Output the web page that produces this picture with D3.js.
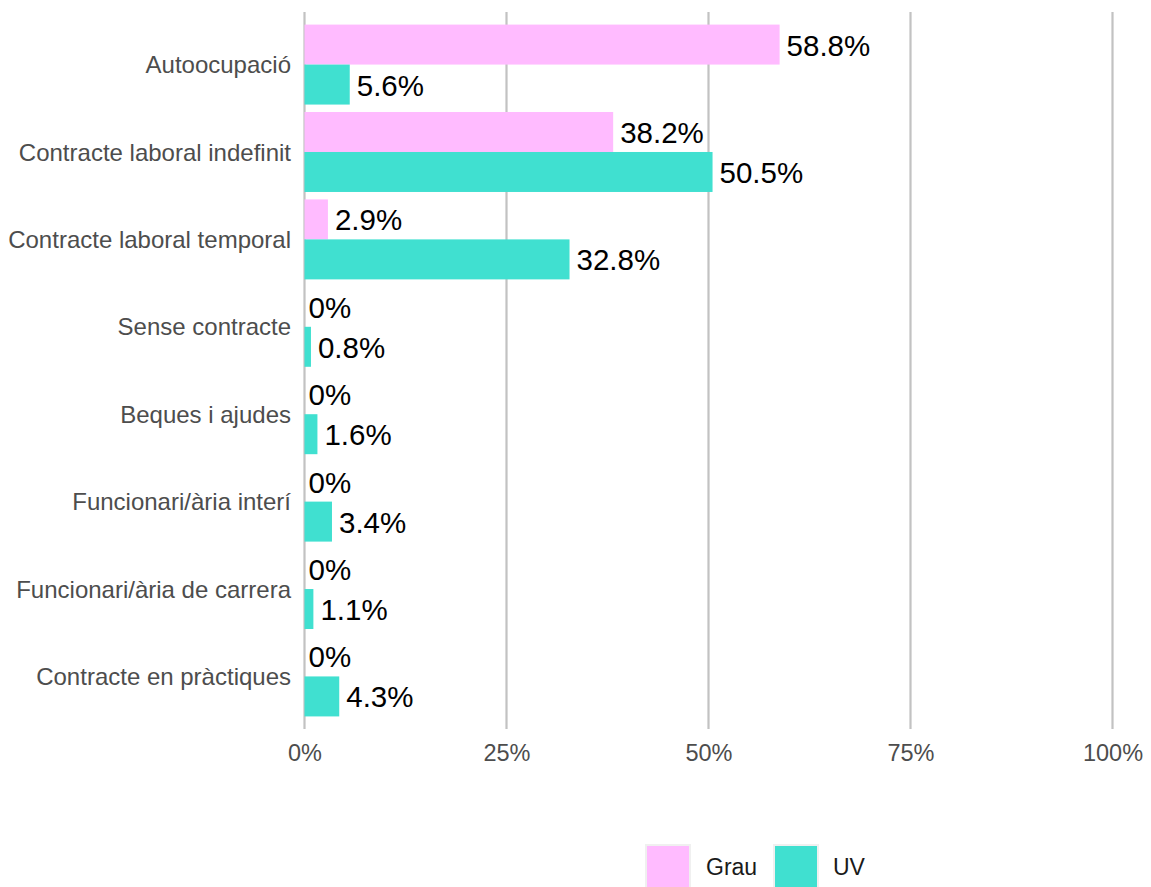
<!DOCTYPE html>
<html>
<head>
<meta charset="utf-8">
<script src="https://cdn.jsdelivr.net/npm/d3@7"></script>
<style>
  html, body { margin: 0; padding: 0; background: #ffffff; }
  svg { display: block; font-family: "Liberation Sans", Arial, sans-serif; }
</style>
</head>
<body>
<svg id="chart" width="1151" height="887"></svg>
<script>
// Employment situation: share of respondents per contract type
const categories = [
  "Autoocupació",
  "Contracte laboral indefinit",
  "Contracte laboral temporal",
  "Sense contracte",
  "Beques i ajudes",
  "Funcionari/ària interí",
  "Funcionari/ària de carrera",
  "Contracte en pràctiques"
];
const seriesNames = ["Grau", "UV"];
const grauValues = [58.8, 38.2, 2.9, 0, 0, 0, 0, 0];
const uvValues = [5.6, 50.5, 32.8, 0.8, 1.6, 3.4, 1.1, 4.3];
const xTicks = [0, 25, 50, 75, 100];
const seriesColors = ["#FFBBFF", "#40E0D0"];

const rows = categories.map((c, i) => ({
  category: c,
  values: [
    { series: seriesNames[0], value: grauValues[i] },
    { series: seriesNames[1], value: uvValues[i] }
  ]
}));

const svg = d3.select("#chart");
const plot = { left: 304.5, right: 1112.5, top: 12, bottom: 729 };

const x = d3.scaleLinear().domain([0, 100]).range([plot.left, plot.right]);
const y = d3.scaleBand()
  .domain(categories)
  .range([plot.top, plot.bottom])
  .paddingInner(0.085)
  .paddingOuter(0.144);
const ySub = d3.scaleBand().domain(seriesNames).range([0, y.bandwidth()]);
const color = d3.scaleOrdinal().domain(seriesNames).range(seriesColors);

// vertical gridlines
svg.append("g")
  .selectAll("line")
  .data(xTicks)
  .join("line")
  .attr("x1", d => x(d)).attr("x2", d => x(d))
  .attr("y1", plot.top).attr("y2", plot.bottom)
  .attr("stroke", "#c2c2c2")
  .attr("stroke-width", 2.2);

// x axis labels
const xAxis = d3.axisBottom(x).tickValues(xTicks).tickFormat(d => d + "%").tickSize(0).tickPadding(0);
const gx = svg.append("g").attr("transform", `translate(0,${plot.bottom})`).call(xAxis);
gx.select(".domain").remove();
gx.selectAll("text")
  .attr("dy", null)
  .attr("y", 32)
  .attr("font-size", 23.5)
  .attr("font-family", "Liberation Sans, Arial, sans-serif")
  .attr("fill", "#4d4d4d");

// y axis labels
const yAxis = d3.axisLeft(y).tickSize(0).tickPadding(0);
const gy = svg.append("g").attr("transform", `translate(291,0)`).call(yAxis);
gy.select(".domain").remove();
gy.selectAll("text")
  .attr("x", 0)
  .attr("dy", "0.36em")
  .attr("font-size", 24)
  .attr("font-family", "Liberation Sans, Arial, sans-serif")
  .attr("fill", "#4d4d4d");

// bars and value labels
const groups = svg.append("g")
  .selectAll("g")
  .data(rows)
  .join("g")
  .attr("transform", d => `translate(0,${y(d.category)})`);

groups.selectAll("rect")
  .data(d => d.values)
  .join("rect")
  .attr("x", x(0))
  .attr("y", d => ySub(d.series))
  .attr("width", d => x(d.value) - x(0))
  .attr("height", ySub.bandwidth())
  .attr("fill", d => color(d.series));

groups.selectAll("text")
  .data(d => d.values)
  .join("text")
  .attr("x", d => x(d.value) + (d.value === 0 ? 4 : 7))
  .attr("y", d => ySub(d.series) + ySub.bandwidth() / 2 + 11)
  .attr("font-size", 29.5)
  .attr("fill", "#000000")
  .text(d => d.value + "%");

// legend
const legend = svg.append("g");
const legendItems = [
  { name: seriesNames[0], box: 645, label: 706 },
  { name: seriesNames[1], box: 773, label: 833 }
];
legend.selectAll("rect")
  .data(legendItems)
  .join("rect")
  .attr("x", d => d.box + 1)
  .attr("y", 845)
  .attr("width", 44)
  .attr("height", 44)
  .attr("fill", d => color(d.name))
  .attr("stroke", "#f0f0f0")
  .attr("stroke-width", 2);
legend.selectAll("text")
  .data(legendItems)
  .join("text")
  .attr("x", d => d.label)
  .attr("y", 875)
  .attr("font-size", 23)
  .attr("fill", "#1a1a1a")
  .text(d => d.name);
</script>
</body>
</html>
